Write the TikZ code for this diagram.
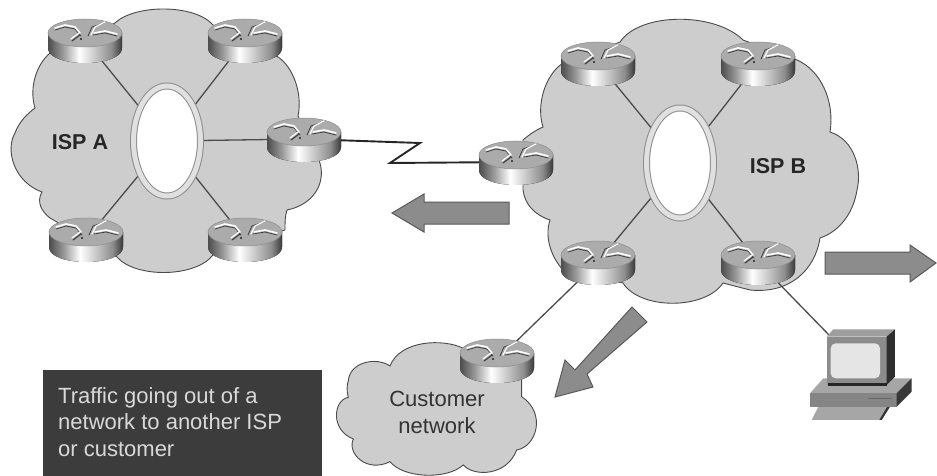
\documentclass[tikz,border=0pt]{standalone}
\usepackage{fontspec}
\setmainfont{Liberation Sans}
\usetikzlibrary{shapes.geometric}
\definecolor{cloudgray}{HTML}{CDCDCD}
\definecolor{edgegray}{HTML}{4A4A4A}
\definecolor{arrowgray}{HTML}{8C8C8C}
\definecolor{boxdark}{HTML}{3C3C3C}
\pgfdeclarehorizontalshading{routerbody}{100bp}{
 color(0bp)=(black!70); color(25bp)=(black!70); color(35bp)=(black!40);
 color(46bp)=(white); color(56bp)=(black!20); color(68bp)=(black!45); color(75bp)=(black!78); color(100bp)=(black!78)}
\newcommand{\routerdraw}[1]{\pic at (#1) {routerpic};}
\tikzset{
 x=1pt,y=-1pt,
 cloudshape/.style={fill=cloudgray,draw=edgegray,line width=0.9pt},
 link/.style={draw=black!70,line width=1.3pt},
 wan/.style={draw=black!85,line width=1.9pt},
 bigarrow/.style={fill=arrowgray,draw=black!65,line width=1pt,line join=miter},
 ringstyle/.style={ellipse,draw=black!45,fill=white,line width=1pt,double=black!12,double distance=5pt,minimum width=67pt,minimum height=110pt,inner sep=0pt},
 ispl/.style={font=\bfseries\fontsize{21.5}{25}\selectfont,text=black!85},
 custl/.style={font=\fontsize{22}{27}\selectfont,text=black!80,align=center},
 boxtext/.style={font=\fontsize{22}{26.5}\selectfont,text=white!85!black,align=left,anchor=north west,inner sep=0pt},
 routerpic/.pic={
  \fill[shading=routerbody] (-37,-7) -- (-37,8) .. controls (-37,28) and (37,28) .. (37,8) -- (37,-7) -- cycle;
  \fill[black!33] (0,-7) ellipse[x radius=37,y radius=14];
  \draw[black!45,line width=0.5pt] (0,-7) ellipse[x radius=37,y radius=14];
  \begin{scope}[line cap=round,line join=round]
   \draw[black!75,line width=0.8pt] (-30,-10)--(-20,-13)--(-10,-11)--(-4,-4);
   \draw[white,line width=1.6pt] (-30,-12)--(-20,-15)--(-10,-13)--(-5,-7);
   \draw[black!75,line width=0.8pt] (3,-4)--(7,-13)--(19,-17);
   \draw[white,line width=1.3pt] (6,-5)--(10,-13)--(20,-18);
   \draw[black!75,line width=0.8pt] (8,-5)--(20,-7)--(32,-4);
   \draw[white,line width=1.6pt] (9,-7)--(20,-9)--(32,-6);
   \draw[black!75,line width=1.2pt] (-13,1)--(-5,-5);
   \draw[white,line width=1.2pt] (-14,-1)--(-6,-7);
   \fill[black!85] (-4,-1) circle[radius=1.1];
  \end{scope}
 }
}
\begin{document}
\begin{tikzpicture}
\useasboundingbox (0,0) rectangle (937,476);
\fill[white] (0,0) rectangle (937,476);

% router positions
\coordinate (a1) at (85,40);
\coordinate (a2) at (245,40);
\coordinate (a3) at (304,139);
\coordinate (a4) at (86,239);
\coordinate (a5) at (245,239);
\coordinate (b1) at (598,63);
\coordinate (b2) at (758,63);
\coordinate (b3) at (516,162);
\coordinate (b4) at (598,262);
\coordinate (b5) at (758,262);
\coordinate (c1) at (497,360);
\coordinate (pc) at (829,335);
\coordinate (wan1) at (420,143);
\coordinate (wan2) at (390,163);
\coordinate (ca) at (167,141);
\coordinate (cb) at (680,163);

% cloud A
\path[cloudshape] (115,23) .. controls (135,4) and (195,4) .. (213,25)
 -- (278,57) .. controls (292,66) and (303,92) .. (298,116)
 -- (320,163) .. controls (326,185) and (312,205) .. (287,210)
 .. controls (285,216) and (285,222) .. (285,230)
 -- (213,255) .. controls (195,278) and (135,278) .. (117,257)
 -- (50,218) .. controls (42,212) and (36,202) .. (42,192)
 .. controls (14,182) and (5,150) .. (15,133)
 .. controls (19,122) and (27,114) .. (35,108)
 .. controls (29,88) and (36,65) .. (50,53) -- cycle;

% cloud B
\path[cloudshape] (620,42) .. controls (640,12) and (715,12) .. (743,40)
 -- (797,60) .. controls (820,70) and (835,100) .. (830,132)
 .. controls (855,140) and (862,170) .. (857,190)
 .. controls (853,215) and (838,232) .. (820,238)
 .. controls (815,270) and (790,294) .. (750,290)
 -- (723,283) .. controls (705,310) and (640,310) .. (623,283)
 -- (563,270) .. controls (552,258) and (544,238) .. (550,220)
 .. controls (535,215) and (525,205) .. (523,190)
 -- (523,140) .. controls (530,134) and (536,130) .. (543,127)
 .. controls (536,105) and (545,75) .. (563,63) -- cycle;

% customer cloud
\begin{scope}[shift={(330,290)},x=0.3333pt,y=-0.3333pt]
\path[cloudshape] (400,175) .. controls (340,145) and (210,150) .. (180,228)
 .. controls (140,200) and (60,215) .. (55,272)
 .. controls (50,285) and (50,305) .. (55,322)
 .. controls (10,330) and (0,420) .. (70,447)
 .. controls (50,490) and (110,550) .. (180,515)
 .. controls (220,565) and (350,570) .. (400,525)
 .. controls (430,560) and (530,560) .. (560,480)
 .. controls (620,470) and (650,370) .. (575,320)
 -- (575,270) -- cycle;
\end{scope}

% links
\draw[link] (a1) -- (ca);
\draw[link] (a2) -- (ca);
\draw[link] (a4) -- (ca);
\draw[link] (a5) -- (ca);
\draw[link] (ca) -- (a3);
\draw[link] (b1) -- (cb);
\draw[link] (b2) -- (cb);
\draw[link] (b4) -- (cb);
\draw[link] (b5) -- (cb);
\draw[link] (b4) -- (c1);
\draw[link] (b5) -- (pc);
\draw[wan,line join=miter] (a3) -- (wan1) -- (wan2) -- (b3);

% rings
\node[ringstyle] (ringa) at (ca) {};
\node[ringstyle] (ringb) at (cb) {};

% routers
\routerdraw{a1}\routerdraw{a2}\routerdraw{a3}\routerdraw{a4}\routerdraw{a5}
\routerdraw{b1}\routerdraw{b2}\routerdraw{b3}\routerdraw{b4}\routerdraw{b5}
\routerdraw{c1}

% labels
\node[ispl] (ispa) at (80,142) {ISP A};
\node[ispl] (ispb) at (778,166) {ISP B};
\node[custl] (cust) at (437,412) {Customer\\network};

% big arrows
\draw[bigarrow] (509,202) -- (424,202) -- (424,194) -- (392,213) -- (424,232) -- (424,224) -- (509,224) -- cycle;
\draw[bigarrow] (825,252) -- (910,252) -- (910,245) -- (936,263) -- (910,282) -- (910,274) -- (825,274) -- cycle;
\draw[bigarrow] (632,307) -- (647,322) -- (587,374) -- (593,387) -- (555,397) -- (565,360) -- (575,370) -- cycle;

% computer
\begin{scope}[shift={(780,220)},x=0.3333pt,y=-0.3333pt,line join=round]
\fill[black!35] (115,560) -- (330,560) -- (305,600) -- (95,600) -- cycle;
\fill[black!80] (330,560) -- (305,600) -- (298,600) -- (322,560) -- cycle;
\fill[black!35] (90,520) -- (130,475) -- (395,475) -- (350,520) -- cycle;
\fill[black!48] (90,520) rectangle (350,560);
\fill[black!78] (350,520) -- (395,475) -- (395,515) -- (350,560) -- cycle;
\draw[black!60,line width=0.5pt] (265,535) -- (335,535);
\fill[black!38] (140,350) -- (160,328) -- (345,328) -- (320,350) -- cycle;
\fill[black!45] (140,350) rectangle (320,495);
\fill[black!82] (320,350) -- (345,328) -- (345,470) -- (320,495) -- cycle;
\fill[black!85] (145,488) rectangle (320,498);
\fill[black!10,rounded corners=5pt] (152,370) rectangle (300,475);
\end{scope}

% caption box
\node[fill=boxdark,minimum width=279pt,minimum height=106pt,anchor=north west,inner sep=0pt] (capbox) at (43,370) {};
\node[boxtext] (captext) at (58,387) {Traffic going out of a\\network to another ISP\\or customer};
\end{tikzpicture}
\end{document}
